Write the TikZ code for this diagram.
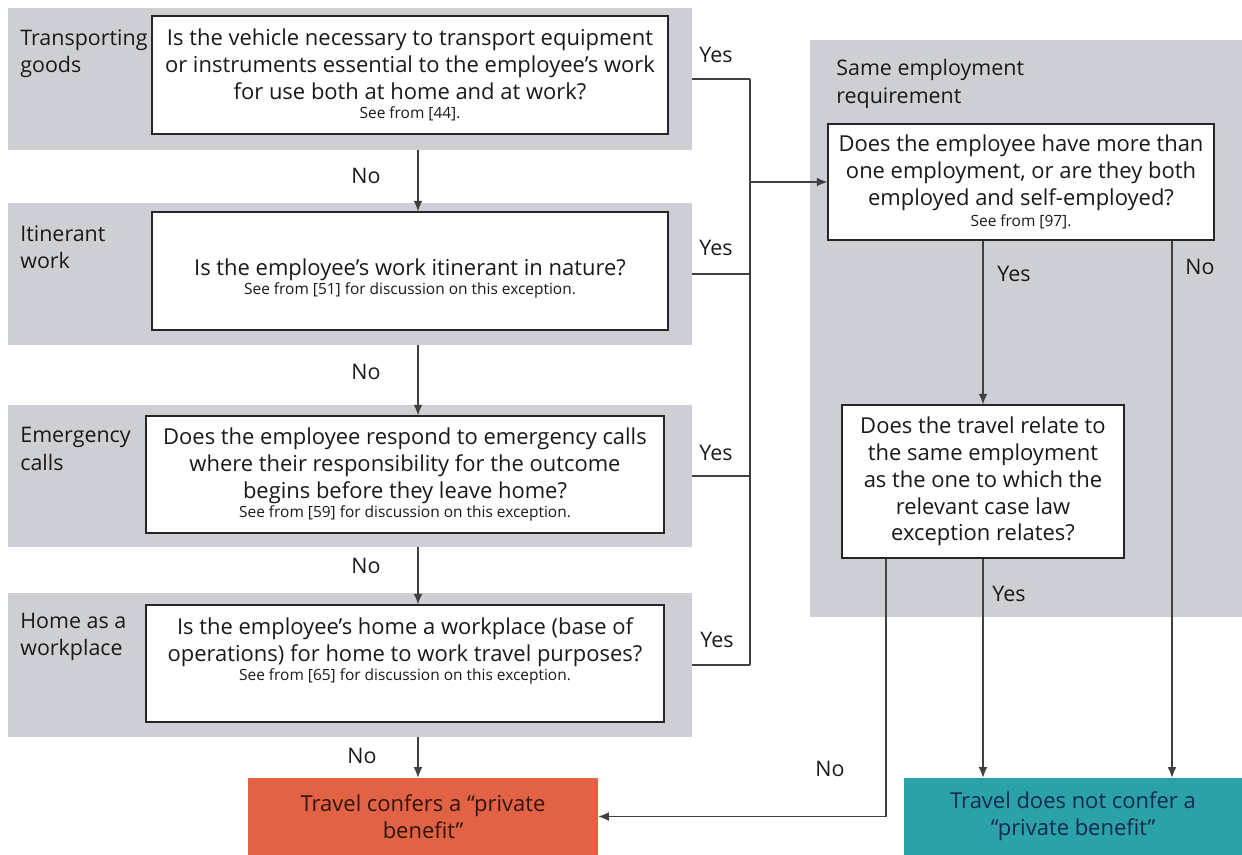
\documentclass[tikz,border=0pt]{standalone}
\usepackage{fontspec}
\setmainfont{Open Sans}
\usetikzlibrary{arrows.meta}
\definecolor{bandgray}{RGB}{205,207,212}
\definecolor{redbox}{RGB}{225,98,68}
\definecolor{tealbox}{RGB}{43,162,167}
\definecolor{txt}{RGB}{25,25,25}
\definecolor{tealtxt}{RGB}{20,40,80}
\definecolor{redtxt}{RGB}{50,20,10}
\def\u{0.02cm}
\tikzset{
  band/.style={fill=bandgray, draw=none, inner sep=0pt},
  qbox/.style={fill=white, draw=black!85, line width=0.8pt, align=center, inner sep=2pt, text=txt, font=\maintext},
  endbox/.style={draw=none, align=center, inner sep=0pt, font=\maintext},
  lbl/.style={anchor=west, align=left, inner sep=0pt, text=txt, font=\labeltext},
  yn/.style={inner sep=0pt, text=txt, font=\labeltext},
  conn/.style={draw=black!75, line width=0.6pt},
  arr/.style={conn, -{Latex[length=6pt,width=5pt]}}
}
\newcommand\maintext{\fontsize{12.5}{15.3}\selectfont}
\newcommand\labeltext{\fontsize{12.2}{15.6}\selectfont}
\newcommand\subt[1]{\\[-4.5pt]{\fontsize{8.8}{10.5}\selectfont #1}}
\begin{document}
\begin{tikzpicture}[x=0.02cm,y=-0.02cm]
\useasboundingbox (0,0) rectangle (1242,855);
% bands
\node[band, minimum width=684*\u, minimum height=142*\u] (band1) at (350,79) {};
\node[band, minimum width=684*\u, minimum height=142*\u] (band2) at (350,274) {};
\node[band, minimum width=684*\u, minimum height=142*\u] (band3) at (350,476) {};
\node[band, minimum width=684*\u, minimum height=144*\u] (band4) at (350,665) {};
\node[band, minimum width=432*\u, minimum height=577*\u] (bandR) at (1026,328.5) {};
% band labels
\node[lbl] (l1) at (20,54) {Transporting\\goods};
\node[lbl] (l2) at (20,247) {Itinerant\\work};
\node[lbl] (l3) at (20,449) {Emergency\\calls};
\node[lbl] (l4) at (20,637) {Home as a\\workplace};
\node[lbl] (lR) at (836,84) {Same employment\\requirement};
% question boxes
\node[qbox, minimum width=516*\u, minimum height=118*\u] (q1) at (410,75)
  {Is the vehicle necessary to transport equipment\\or instruments essential to the employee’s work\\for use both at home and at work?\subt{See from [44].}};
\node[qbox, minimum width=516*\u, minimum height=118*\u] (q2) at (410,271)
  {\rule{0pt}{18pt}Is the employee’s work itinerant in nature?\subt{See from [51] for discussion on this exception.}};
\node[qbox, minimum width=518*\u, minimum height=117*\u] (q3) at (405,474.5)
  {Does the employee respond to emergency calls\\where their responsibility for the outcome\\begins before they leave home?\subt{See from [59] for discussion on this exception.}};
\node[qbox, minimum width=518*\u, minimum height=117*\u] (q4) at (405,663.5)
  {Is the employee’s home a workplace (base of\\operations) for home to work travel purposes?\subt{See from [65] for discussion on this exception.\rule[-16pt]{0pt}{16pt}}};
\node[qbox, minimum width=386*\u, minimum height=116*\u] (r1) at (1021,182)
  {Does the employee have more than\\one employment, or are they both\\employed and self-employed?\\[-3pt]{\fontsize{8.8}{10.5}\selectfont See from [97].}};
\node[qbox, minimum width=282*\u, minimum height=153*\u] (r2) at (983,481.5)
  {Does the travel relate to\\the same employment\\as the one to which the\\relevant case law\\exception relates?};
% end boxes
\node[endbox, fill=redbox, text=redtxt, minimum width=350*\u, minimum height=77*\u] (red) at (423,816.5)
  {Travel confers a “private\\benefit”};
\node[endbox, fill=tealbox, text=tealtxt, minimum width=338*\u, minimum height=77*\u] (teal) at (1073,816.5)
  {Travel does not confer a\\“private benefit”};
% helper coordinates
\coordinate (cx) at (418,0);
\coordinate (jx) at (750,0);
\coordinate (nx) at (886,0);
\coordinate (ax) at (1172,0);
% No arrows down the left column
\draw[arr] (band1.south -| cx) -- (q2.north -| cx);
\draw[arr] (band2.south -| cx) -- (q3.north -| cx);
\draw[arr] (band3.south -| cx) -- (q4.north -| cx);
\draw[arr] (band4.south -| cx) -- (red.north -| cx);
\node[yn] (no1) at (366,176) {No};
\node[yn] (no2) at (366,372) {No};
\node[yn] (no3) at (366,566) {No};
\node[yn] (no4) at (362,756) {No};
% Yes lines to the collector
\draw[conn] (band1.east) -- (band1.east -| jx);
\draw[conn] (band2.east) -- (band2.east -| jx);
\draw[conn] (band3.east) -- (band3.east -| jx);
\draw[conn] (band4.east) -- (band4.east -| jx);
\draw[conn] (band1.east -| jx) -- (band4.east -| jx);
\draw[arr] (jx |- r1.west) -- (r1.west);
\node[yn] (y1) at (716,55) {Yes};
\node[yn] (y2) at (716,248) {Yes};
\node[yn] (y3) at (716,453) {Yes};
\node[yn] (y4) at (717,640) {Yes};
% right side
\draw[arr] (r1.south -| r2.north) -- (r2.north);
\draw[arr] (r1.south -| ax) -- (teal.north -| ax);
\draw[arr] (r2.south) -- (r2.south |- teal.north);
\draw[arr] (r2.south -| nx) |- (red.east);
\node[yn] (y5) at (1014,274) {Yes};
\node[yn] (n5) at (1200,267) {No};
\node[yn] (y6) at (1009,594) {Yes};
\node[yn] (n6) at (830,769) {No};
\end{tikzpicture}
\end{document}
